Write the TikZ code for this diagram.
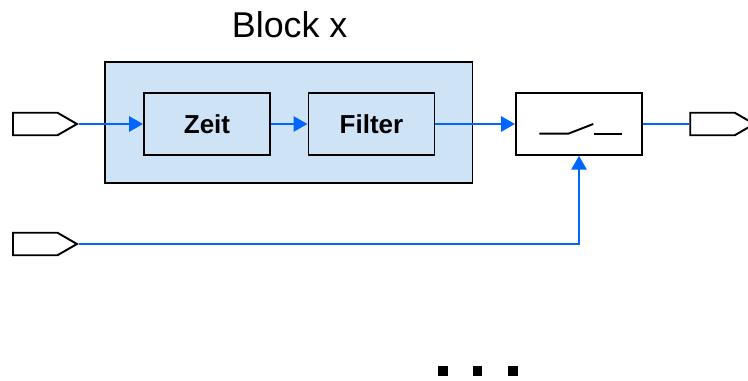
\documentclass[tikz,border=0pt]{standalone}
\usepackage{fontspec}
\setmainfont{Liberation Sans}
\usetikzlibrary{arrows.meta}
\usetikzlibrary{shapes.symbols}
\definecolor{sigblue}{RGB}{0,102,255}
\definecolor{blockfill}{RGB}{207,227,247}
% one pixel of the drawing
\newcommand{\pxu}{0.02cm}
\newcommand{\fnsizex}{2.52cm}
\newcommand{\fnsizey}{1.23cm}
\newcommand{\rowy}{124}

\begin{document}
\begin{tikzpicture}[x=\pxu, y=-\pxu,
    sig/.style={draw=sigblue, line width=1.6pt,
      -{Triangle[length=0.28cm, width=0.3cm]}},
    fnbox/.style={draw, line width=1.1pt, minimum width=\fnsizex,
      minimum height=\fnsizey, inner sep=0pt,
      font=\bfseries\fontsize{14.8pt}{17pt}\selectfont},
    port/.style={draw, line width=1.1pt, fill=white, signal, signal to=east,
      signal pointer angle=60, minimum width=1.28cm, minimum height=0.45cm,
      inner sep=0pt, anchor=west}]
    \useasboundingbox (0,0) rectangle (748,381);

    % block x
    \node (blockx) at (288.5,122.5) [draw, line width=1.1pt, fill=blockfill,
      minimum width=7.36cm, minimum height=2.42cm] {};
    \node (title) at (289.7,37.3) [anchor=base,
      font=\fontsize{20.4pt}{24pt}\selectfont] {Block x};
    \node (zeit) at (207,\rowy) [fnbox] {Zeit};
    \node (filter) at (371.5,\rowy) [fnbox] {Filter};

    % switch
    \node (switch) at (579,\rowy) [draw, line width=1.1pt, minimum width=2.52cm,
      minimum height=\fnsizey] {};
    \draw[line width=1.1pt] (539.3,133.7) -- (568.3,133.7) -- (593.3,124);
    \draw[line width=1.1pt] (594.3,133.7) -- (621.7,133.7);

    % ports
    \node (inone) at (12,\rowy) [port] {};
    \node (intwo) at (12,244) [port] {};
    \node (outone) at (689.3,\rowy) [port] {};

    % signals
    \draw[sig] (inone.east) -- (zeit.west);
    \draw[sig] (zeit.east) -- (filter.west);
    \draw[sig] (filter.east) -- (switch.west);
    \draw[sig] (intwo.east) -| (switch.south);
    \draw[draw=sigblue, line width=1.1pt] (switch.east) -- (outone.west);

    % more blocks follow
    \fill (438.3,366) rectangle (447.7,376);
    \fill (473.3,366) rectangle (482.3,376);
    \fill (508.3,366) rectangle (517.7,376);
  \end{tikzpicture}
\end{document}
